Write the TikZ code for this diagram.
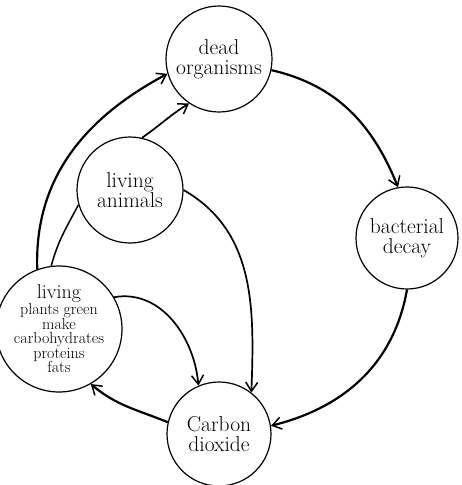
\documentclass[tikz,border=0pt]{standalone}
\usetikzlibrary{arrows.meta}
\begin{document}
\begin{tikzpicture}[x=1pt,y=1pt,
  stage/.style={circle, draw, line width=1.2pt, inner sep=0pt, minimum size=#1, align=center,
                font=\fontsize{21.5}{20.5}\selectfont},
  tip/.style={-{Straight Barb[length=9pt,width=12pt,line width=1.5pt]}},
  outerflow/.style={tip, line width=2.2pt},
  innerflow/.style={tip, line width=1.7pt},
  link/.style={line width=1.5pt}]
\useasboundingbox (0,0) rectangle (462,-485);
\node[stage=106pt] (dead) at (219,-59) {dead\\organisms};
\node[stage=102pt] (bact) at (407,-238) {bacterial\\decay};
\node[stage=106pt] (animals) at (130,-190) {living\\animals};
\node[stage=107pt, font=\fontsize{16}{14.5}\selectfont] (plants) at (59,-329)
  {{\fontsize{20}{16}\selectfont living}\\plants green\\make\\carbohydrates\\proteins\\fats};
\node[stage=104pt] (co2) at (219,-434) {Carbon\\dioxide};
\draw[outerflow] (dead.-12) to[out=-13,in=112] (bact.100);
\draw[outerflow] (bact.-90) to[out=-100,in=14] (co2.9);
\draw[outerflow] (co2.167) to[out=158,in=-40] (plants.-60);
\draw[outerflow] (plants.110) to[out=92,in=-152] (dead.196);
\draw[link] (plants.97) to[out=75,in=-118] (animals.196);
\draw[innerflow] (animals.77) to[out=35,in=-148] (dead.236);
\draw[innerflow] (animals.0) to[out=-30,in=88] (co2.52);
\draw[innerflow] (plants.30) to[out=10,in=95] (co2.113);
\end{tikzpicture}
\end{document}
